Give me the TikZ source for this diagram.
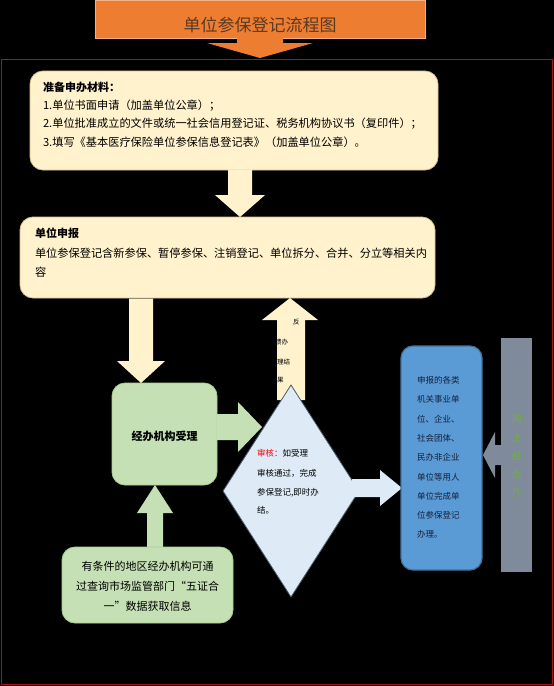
\documentclass[tikz,border=0pt]{standalone}
\usepackage{fontspec}
\setmainfont{Liberation Sans}
\newfontfamily\cjk{Noto Sans CJK SC}
\usetikzlibrary{shapes.geometric}
\definecolor{bgblack}{HTML}{000000}
\definecolor{orangeT}{HTML}{ED7D31}
\definecolor{titletext}{HTML}{5A3A22}
\definecolor{frameRed}{HTML}{A01818}
\definecolor{cream}{HTML}{FFF2CC}
\definecolor{creamEdge}{HTML}{D9C08C}
\definecolor{greenF}{HTML}{C5E0B4}
\definecolor{greenE}{HTML}{A9D18E}
\definecolor{paleBlue}{HTML}{DEEBF7}
\definecolor{diaEdge}{HTML}{4A5A6A}
\definecolor{blueF}{HTML}{5B9BD5}
\definecolor{blueE}{HTML}{41719C}
\definecolor{grayBar}{HTML}{7F8B9B}
\definecolor{grayText}{HTML}{72B040}
\definecolor{blueText}{HTML}{14203A}
\tikzset{
  every node/.style={inner sep=0pt, outer sep=0pt},
  creambox/.style={rectangle, rounded corners=13pt, fill=cream, draw=creamEdge, line width=0.8pt},
  greenbox/.style={rectangle, rounded corners=13pt, fill=greenF, draw=greenE, line width=0.8pt},
  bluebox/.style={rectangle, rounded corners=12pt, fill=blueF, draw=blueE, line width=1.2pt},
  txt/.style={anchor=base west, font=\cjk\fontsize{11.2}{13}\selectfont, text=black},
  btxt/.style={txt, font=\cjk\bfseries\fontsize{11}{13}\selectfont},
  stxt/.style={anchor=base west, font=\cjk\fontsize{8.5}{10}\selectfont, text=black},
  ctxt/.style={anchor=base, font=\cjk\fontsize{11}{13}\selectfont, text=black},
  tinytxt/.style={anchor=base west, font=\cjk\fontsize{6.5}{8}\selectfont, text=black},
}
\begin{document}
\begin{tikzpicture}[x=1pt, y=-1pt]
\fill[bgblack] (0,0) rectangle (554,686);
\useasboundingbox (0,0) rectangle (554,686);

% title
\node[rectangle, fill=orangeT, draw=orangeT!60!white, line width=0.6pt, minimum width=330pt, minimum height=38pt] (title) at (260,19) {};
\node[font=\cjk\fontsize{17}{19}\selectfont, text=titletext] (titletxt) at (260,25) {单位参保登记流程图};
\fill[orangeT] (237,37) -- (283,37) -- (283,43) -- (313,43) -- (260,58) -- (207,43) -- (237,43) -- cycle;

% red frame
\draw[frameRed, line width=1.3pt] (1.5,59.5) rectangle (552.5,684.5);

% box 1
\node[creambox, minimum width=408pt, minimum height=99pt] (box1) at (234,120.5) {};
\node[btxt] (b1t) at (43,91) {准备申办材料：};
\node[txt] (b1l1) at (43,109) {1.单位书面申请（加盖单位公章）；};
\node[txt] (b1l2) at (43,127) {2.单位批准成立的文件或统一社会信用登记证、税务机构协议书（复印件）；};
\node[txt] (b1l3) at (43,146) {3.填写《基本医疗保险单位参保信息登记表》（加盖单位公章）。};

% arrow box1 -> box2
\fill[cream] (228,169.5) -- (252,169.5) -- (252,195) -- (265,195) -- (240,217) -- (215,195) -- (228,195) -- cycle;

% box 2
\node[creambox, minimum width=415pt, minimum height=81pt] (box2) at (227.5,257.5) {};
\node[btxt] (b2t) at (35,237) {单位申报};
\node[txt] (b2l1) at (35,257) {单位参保登记含新参保、暂停参保、注销登记、单位拆分、合并、分立等相关内};
\node[txt] (b2l2) at (35,276) {容};

% arrow box2 -> green box
\fill[cream] (129,298.5) -- (153,298.5) -- (153,361) -- (165,361) -- (141,383) -- (117,361) -- (129,361) -- cycle;

% feedback up arrow
\fill[cream] (277,400) -- (305,400) -- (305,320) -- (318,320) -- (290,298) -- (262,320) -- (277,320) -- cycle;
\node[tinytxt] (fb1) at (293,324) {反};
\node[tinytxt] (fb2) at (275,344) {馈办};
\node[tinytxt] (fb3) at (277,364) {理结};
\node[tinytxt] (fb4) at (277,382) {果};

% green box
\node[greenbox, minimum width=105pt, minimum height=102pt] (gbox) at (164.5,434) {};
\node[font=\cjk\bfseries\fontsize{11}{13}\selectfont, text=black] (gtxt) at (164.5,436) {经办机构受理};

% arrow green -> diamond
\fill[greenF] (216.5,414) -- (238,414) -- (238,402) -- (262,427) -- (238,452) -- (238,440) -- (216.5,440) -- cycle;

% diamond
\node[diamond, fill=paleBlue, draw=diaEdge, line width=0.8pt, minimum width=136pt, minimum height=212pt] (dia) at (291,491) {};
\node[stxt] (d1) at (257,456.5) {\textcolor{red}{审核：}如受理};
\node[stxt] (d2) at (257,476.5) {审核通过，完成};
\node[stxt] (d3) at (257,495.5) {参保登记,即时办};
\node[stxt] (d4) at (257,513.5) {结。};

% arrow diamond -> blue box
\fill[paleBlue] (352,479) -- (380,479) -- (380,470) -- (402,488) -- (380,506) -- (380,497) -- (352,497) -- cycle;

% blue box
\node[bluebox, minimum width=81pt, minimum height=224pt] (bbox) at (441.5,458) {};
\foreach \t [count=\i from 0] in {申报的各类,机关事业单,位、企业、,社会团体、,民办非企业,单位等用人,单位完成单,位参保登记,办理。}{
  \node[stxt, text=blueText] (bl\i) at (417,383.5+19.3*\i) {\t};
}

% gray bar and arrow
\node[rectangle, fill=grayBar, minimum width=31pt, minimum height=234pt] (gray) at (516.5,455) {};
\fill[grayBar] (502,445) -- (495,445) -- (495,432) -- (483,455) -- (495,478) -- (495,465) -- (502,465) -- cycle;
\foreach \t [count=\i from 0] in {网,上,经,办,厅}{
  \node[font=\cjk\fontsize{9.5}{11}\selectfont, text=grayText] (gt\i) at (517,419+18.5*\i) {\t};
}

% green up arrow
\fill[greenF] (147,547.5) -- (163,547.5) -- (163,513) -- (173,513) -- (155,485) -- (137,513) -- (147,513) -- cycle;

% bottom green box
\node[greenbox, minimum width=171pt, minimum height=76pt] (gbox2) at (147.5,585) {};
\node[ctxt] (g2l1) at (147.5,570.5) {有条件的地区经办机构可通};
\node[ctxt] (g2l2) at (147.5,590.5) {过查询市场监管部门“五证合};
\node[ctxt] (g2l3) at (147.5,610.5) {一”数据获取信息};
\end{tikzpicture}
\end{document}
